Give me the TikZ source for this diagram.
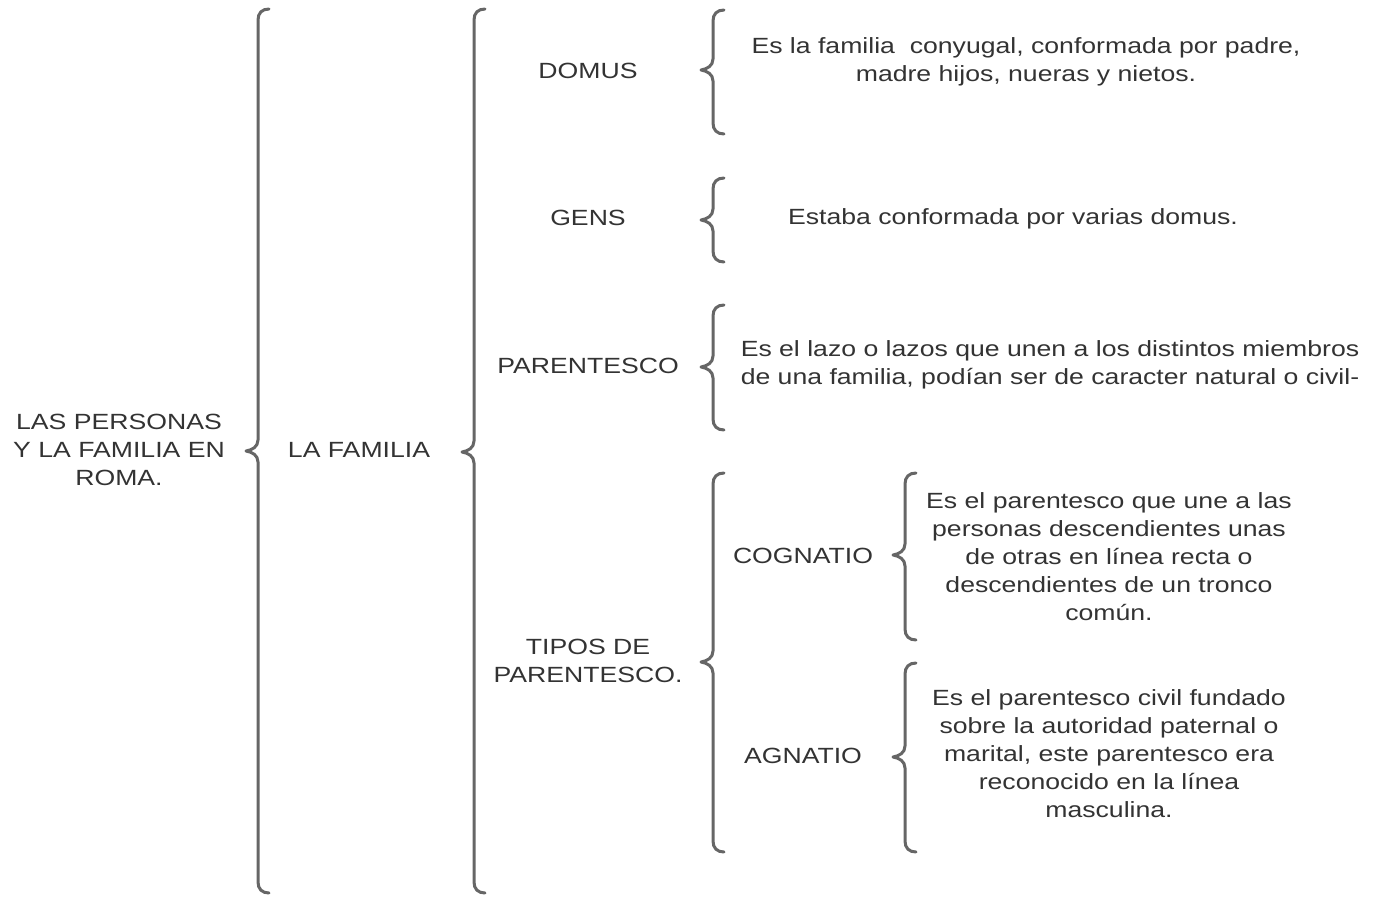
\documentclass[tikz,border=0pt]{standalone}
\usepackage{fontspec}
\setmainfont{Liberation Sans}[FakeStretch=1.21]
\definecolor{txt}{HTML}{333333}
\definecolor{brc}{HTML}{666666}
\newcommand{\mybrace}[4]{%
  \draw[bracestyle] (#1+11,#2) .. controls (#1+4,#2) and (#1,#2+4) .. (#1,#2+11)
    -- (#1,#3-11) .. controls (#1,#3-4) and (#1-6,#3-1) .. (#1-12,#3)
    .. controls (#1-6,#3+1) and (#1,#3+4) .. (#1,#3+11)
    -- (#1,#4-11) .. controls (#1,#4-4) and (#1+4,#4) .. (#1+11,#4);}
\begin{document}
\begin{tikzpicture}[x=1pt,y=-1pt,
  bracestyle/.style={draw=brc,line width=3pt,line cap=round,line join=round},
  lbl/.style={text=txt,font=\fontsize{22}{28}\selectfont,align=center,inner sep=0pt}]
\useasboundingbox[fill=white] (0,0) rectangle (1374,899);
% braces
\mybrace{258}{9}{451}{893}
\mybrace{474}{9}{452}{893}
\mybrace{713}{10}{70}{134}
\mybrace{713}{178}{220}{262}
\mybrace{713}{305}{367}{430}
\mybrace{713}{473}{662}{852}
\mybrace{905}{473}{555}{640}
\mybrace{905}{663}{757}{852}
% texts
\node[lbl] (root) at (119,450) {LAS PERSONAS\\Y LA FAMILIA EN\\ROMA.};
\node[lbl] (fam) at (359,450) {LA FAMILIA};
\node[lbl] (domus) at (588,71) {DOMUS};
\node[lbl] (gens) at (588,218) {GENS};
\node[lbl] (par) at (588,366) {PARENTESCO};
\node[lbl] (tipos) at (588,661) {TIPOS DE\\PARENTESCO.};
\node[lbl] (domusd) at (1026,62) {Es la familia\ \ conyugal, conformada por padre,\\madre hijos, nueras y nietos.};
\node[lbl] (gensd) at (1013,219) {Estaba conformada por varias domus.};
\node[lbl] (pard) at (1050,365) {Es el lazo o lazos que unen a los distintos miembros\\de una familia, podían ser de caracter natural o civil-};
\node[lbl] (cog) at (803,556) {COGNATIO};
\node[lbl] (agn) at (803,756) {AGNATIO};
\node[lbl] (cogd) at (1109,557) {Es el parentesco que une a las\\personas descendientes unas\\de otras en línea recta o\\descendientes de un tronco\\común.};
\node[lbl] (agnd) at (1109,754) {Es el parentesco civil fundado\\sobre la autoridad paternal o\\marital, este parentesco era\\reconocido en la línea\\masculina.};
\end{tikzpicture}
\end{document}
